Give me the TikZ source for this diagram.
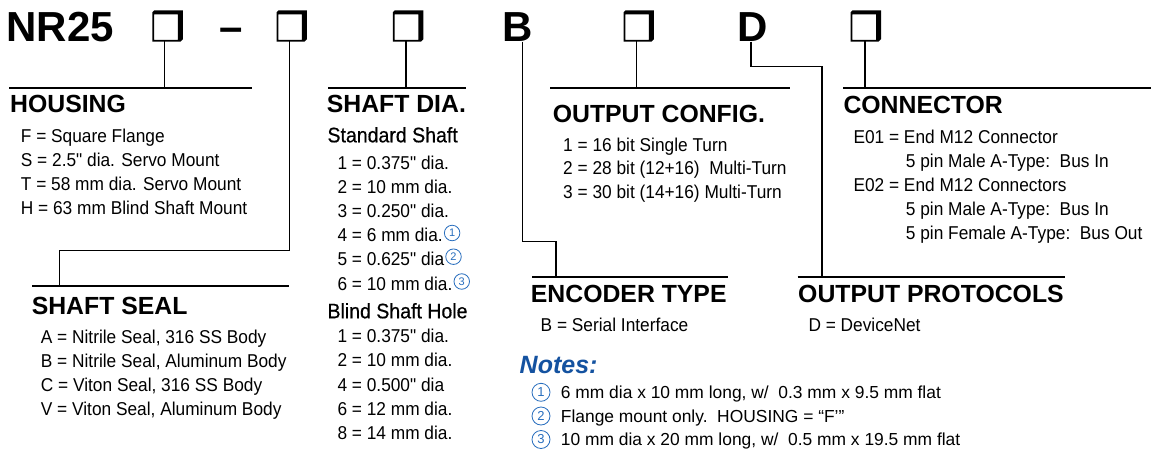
\documentclass[tikz,border=0pt]{standalone}
\usepackage{fontspec}
\setmainfont{Liberation Sans}
\newfontfamily\nar[FakeStretch=0.93]{Liberation Sans}
\newfontfamily\narsb[FakeStretch=0.93,FakeBold=0.5]{Liberation Sans}
\definecolor{noteblue}{RGB}{20,82,160}
\definecolor{circblue}{RGB}{40,110,190}
\tikzset{
 titletext/.style={font=\fontsize{42}{42}\selectfont\bfseries, inner sep=0, anchor=base west},
 headtext/.style={font=\fontsize{24.8}{24.8}\selectfont\bfseries, inner sep=0, anchor=base west},
 subtext/.style={font=\narsb\fontsize{21}{21}\selectfont, inner sep=0, anchor=base west},
 bodytext/.style={font=\nar\fontsize{18.6}{24}\selectfont, inner sep=0, anchor=base west},
 notetext/.style={font=\fontsize{17.4}{24}\selectfont, inner sep=0, anchor=base west},
 notehead/.style={font=\fontsize{25}{25}\selectfont\bfseries\itshape, text=noteblue, inner sep=0, anchor=base west},
 rulebar/.style={line width=2pt},
 conn/.style={line width=1.4pt},
 circnum/.style={circle, draw=circblue, text=circblue, line width=0.8pt, inner sep=0, minimum size=15.5pt, font=\fontsize{11}{11}\selectfont},
 notecirc/.style={circnum, minimum size=18pt, font=\fontsize{13}{13}\selectfont},
 codebox/.style={rectangle, inner sep=0, minimum width=30pt, minimum height=31pt},
}
\newcommand{\cglyph}[1]{%
 \fill[even odd rule] ([xshift=2pt]#1.north west) -- (#1.north east) -- ([yshift=2.5pt]#1.south east) -- ([xshift=-2.5pt]#1.south east) -- (#1.south west) -- ([yshift=-2pt]#1.north west) -- cycle
   ([xshift=1.8pt,yshift=-4pt]#1.north west) rectangle ([xshift=-5pt,yshift=1.8pt]#1.south east);}
\begin{document}
\begin{tikzpicture}[x=1pt,y=-1pt]
\fill[white] (0,0) rectangle (1151,452);
\useasboundingbox (0,0) rectangle (1151,452);

% ---- title row ----
\node[titletext] (nr) at (6.3,41.7) {NR25};
\node[codebox] (k1) at (167.6,26) {}; \cglyph{k1}
\node[titletext] (dash) at (219,41.7) {–};
\node[codebox] (k2) at (291.7,26) {}; \cglyph{k2}
\node[codebox] (k3) at (408.1,26) {}; \cglyph{k3}
\node[titletext] (lb) at (502,41.7) {B};
\node[codebox] (k4) at (638.7,26) {}; \cglyph{k4}
\node[titletext] (ld) at (737.5,41.7) {D};
\node[codebox] (k5) at (865.8,26) {}; \cglyph{k5}

% ---- heading rules ----
\coordinate (hA) at (9.2,87.7);   \coordinate (hB) at (251.7,87.7);
\coordinate (sA) at (328,87.7);   \coordinate (sB) at (465.5,87.7);
\coordinate (oA) at (550,87.7);   \coordinate (oB) at (790.4,87.7);
\coordinate (cA) at (843.4,87.7); \coordinate (cB) at (1151,87.7);
\coordinate (eA) at (32,286);     \coordinate (eB) at (288.7,286);
\coordinate (tA) at (532.4,276.7);\coordinate (tB) at (727.8,276.7);
\coordinate (pA) at (797.5,276.7);\coordinate (pB) at (1064.8,276.7);
\draw[rulebar] (hA) -- (hB);
\draw[rulebar] (sA) -- (sB);
\draw[rulebar] (oA) -- (oB);
\draw[rulebar] (cA) -- (cB);
\draw[rulebar] (eA) -- (eB);
\draw[rulebar] (tA) -- (tB);
\draw[rulebar] (pA) -- (pB);

% ---- connectors ----
\coordinate (k1b) at (164.6,41.5); \coordinate (k1e) at (164.6,87.7);
\coordinate (k2b) at (289.7,41.5); \coordinate (k2e) at (59.3,286);
\coordinate (k3b) at (405.8,41.5); \coordinate (k3e) at (405.8,87.7);
\coordinate (lbb) at (522.2,41.7); \coordinate (lbe) at (556,276.7);
\coordinate (k4b) at (636.7,41.5); \coordinate (k4e) at (636.7,87.7);
\coordinate (ldb) at (750.8,41.7); \coordinate (lde) at (822,276.7);
\coordinate (k5b) at (864.8,41.5); \coordinate (k5e) at (864.8,87.7);
\draw[conn] (k1b) -- (k1e);
\draw[conn] (k2b) -- (289.7,250.7) -- (59.3,250.7) -- (k2e);
\draw[conn] (k3b) -- (k3e);
\draw[conn] (lbb) -- (522.2,241.7) -- (556,241.7) -- (lbe);
\draw[conn] (k4b) -- (k4e);
\draw[conn] (ldb) -- (750.8,66.7) -- (822,66.7) -- (lde);
\draw[conn] (k5b) -- (k5e);

% ---- HOUSING ----
\node[headtext] (hh) at (10,112.3) {HOUSING};
\node[bodytext] (h1) at (20.7,142.3) {F = Square Flange};
\node[bodytext] (h2) at (20.7,166) {S = 2.5" dia. Servo Mount};
\node[bodytext] (h3) at (20.7,190) {T = 58 mm dia. Servo Mount};
\node[bodytext] (h4) at (20.7,214) {H = 63 mm Blind Shaft Mount};

% ---- SHAFT SEAL ----
\node[headtext] (eh) at (31.6,314) {SHAFT SEAL};
\node[bodytext] (e1) at (40.7,343.3) {A = Nitrile Seal, 316 SS Body};
\node[bodytext] (e2) at (40.7,367) {B = Nitrile Seal, Aluminum Body};
\node[bodytext] (e3) at (40.7,391) {C = Viton Seal, 316 SS Body};
\node[bodytext] (e4) at (40.7,415) {V = Viton Seal, Aluminum Body};

% ---- SHAFT DIA. ----
\node[headtext] (sh) at (326.6,112.3) {SHAFT DIA.};
\node[subtext] (ss) at (327.3,142.3) {Standard Shaft};
\node[bodytext] (s1) at (337.3,169.3) {1 = 0.375" dia.};
\node[bodytext] (s2) at (337.3,193.3) {2 = 10 mm dia.};
\node[bodytext] (s3) at (337.3,217.5) {3 = 0.250" dia.};
\node[bodytext] (s4) at (337.3,241.5) {4 = 6 mm dia.};
\node[bodytext] (s5) at (337.3,265.7) {5 = 0.625" dia};
\node[bodytext] (s6) at (337.3,290) {6 = 10 mm dia.};
\node[circnum, anchor=west] (c4) at ([xshift=1pt,yshift=8.5pt]s4.base east) {1};
\node[circnum, anchor=west] (c5) at ([xshift=1pt,yshift=9pt]s5.base east) {2};
\node[circnum, anchor=west] (c6) at ([xshift=1pt,yshift=8.5pt]s6.base east) {3};
\node[subtext] (sb) at (327.3,318.3) {Blind Shaft Hole};
\node[bodytext] (b1) at (337.3,342.7) {1 = 0.375" dia.};
\node[bodytext] (b2) at (337.3,366.7) {2 = 10 mm dia.};
\node[bodytext] (b3) at (337.3,391) {4 = 0.500" dia};
\node[bodytext] (b4) at (337.3,415) {6 = 12 mm dia.};
\node[bodytext] (b5) at (337.3,439.3) {8 = 14 mm dia.};

% ---- OUTPUT CONFIG. ----
\node[headtext] (oh) at (552.6,122.3) {OUTPUT CONFIG.};
\node[bodytext] (o1) at (563,151) {1 = 16 bit Single Turn};
\node[bodytext] (o2) at (563,174.5) {2 = 28 bit (12+16)\ \ Multi-Turn};
\node[bodytext] (o3) at (563,198.3) {3 = 30 bit (14+16) Multi-Turn};

% ---- CONNECTOR ----
\node[headtext] (ch) at (843.3,113.3) {CONNECTOR};
\node[bodytext] (n1) at (853.3,143.3) {E01 = End M12 Connector};
\node[bodytext] (n2) at (905.7,167.3) {5 pin Male A-Type:\ \ Bus In};
\node[bodytext] (n3) at (853.3,191.5) {E02 = End M12 Connectors};
\node[bodytext] (n4) at (905.7,215.5) {5 pin Male A-Type:\ \ Bus In};
\node[bodytext] (n5) at (905.7,239.5) {5 pin Female A-Type:\ \ Bus Out};

% ---- ENCODER TYPE ----
\node[headtext] (th) at (530.7,302.7) {ENCODER TYPE};
\node[bodytext] (t1) at (540.5,331.7) {B = Serial Interface};

% ---- OUTPUT PROTOCOLS ----
\node[headtext] (ph) at (798,302.7) {OUTPUT PROTOCOLS};
\node[bodytext] (p1) at (808.3,331.7) {D = DeviceNet};

% ---- Notes ----
\node[notehead] (nh) at (519.5,373.3) {Notes:};
\node[notecirc] (m1) at (541,392.3) {1};
\node[notetext] (m1t) at (560.7,398.3) {6 mm dia x 10 mm long, w/\ \ 0.3 mm x 9.5 mm flat};
\node[notecirc] (m2) at (541,416) {2};
\node[notetext] (m2t) at (560.7,422) {Flange mount only.\ \ HOUSING = “F’”};
\node[notecirc] (m3) at (541,439.5) {3};
\node[notetext] (m3t) at (560.7,445.5) {10 mm dia x 20 mm long, w/\ \ 0.5 mm x 19.5 mm flat};
\end{tikzpicture}
\end{document}
